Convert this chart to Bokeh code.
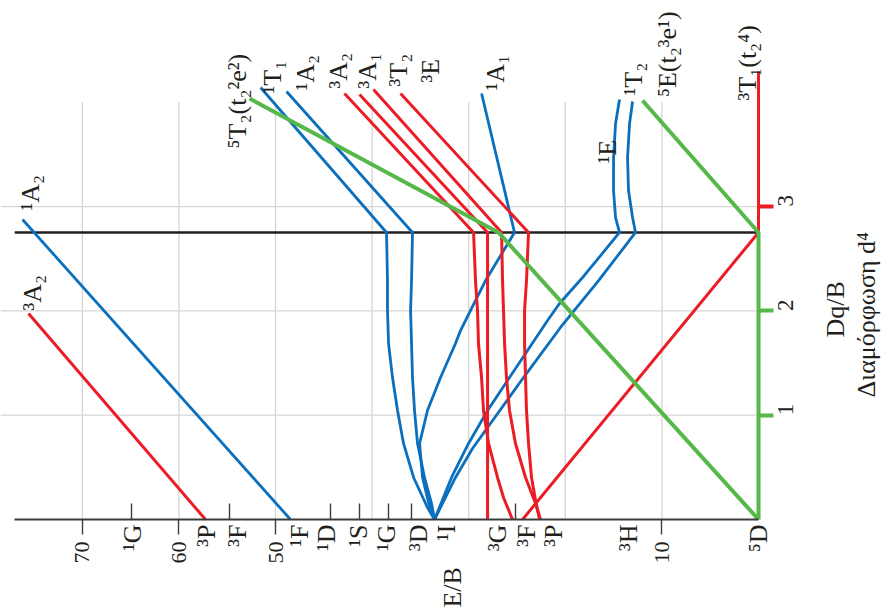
from math import pi
from bokeh.plotting import figure
from bokeh.models import Range1d, LinearAxis, FixedTicker
from bokeh.core.properties import value
from bokeh.embed import file_html
from bokeh.resources import INLINE

FONT = "Liberation Serif"
BLUE = "#0a6fbd"
RED = "#ec1c24"
GREEN = "#55b848"
BLACK = "#231f20"
GRID = "#d5d5d5"
AXIS = "#3c3c3c"
TXT = "#231f20"

# ---------------- data (E/B along x, Dq/B along y) ----------------
dq_cross = 2.752          # spin crossover (black line)
eb_axis_max = 77.0        # end of E/B axis
grid_top = 4.0

eb_ticks = [10, 50, 60, 70]
dq_ticks_low = [1, 2]
dq_ticks_high = [3]
grid_E = [10, 20, 30, 40, 50, 60, 70]
grid_Dq = [1, 2, 3]

# free-ion terms: tick marks and labels on the E/B axis
term_tick_E = [64.91, 54.76, 44.31, 41.30, 38.30, 35.92, 25.16]
term_label_E = [64.80, 57.14, 53.93, 47.52, 44.72, 41.41, 38.51, 35.20, 32.30, 27.02, 24.02, 21.22, 13.46, 0.0]
term_names = ["¹G", "³P", "³F", "¹F", "¹D", "¹S", "¹G", "³D", "¹I", "³G", "³F", "³P", "³H", "⁵D"]

# singlets (blue)
s1A2_left_E = [48.45, 76.19]
s1A2_left_Dq = [0.0, 2.876]
s1T1_E = [33.54, 34.27, 35.71, 36.75, 37.37, 37.89, 38.30, 38.41, 38.41, 38.51, 51.55]
s1T1_Dq = [0.0, 0.115, 0.403, 0.729, 1.045, 1.361, 1.687, 2.004, 2.291, 2.752, 4.142]
s1A2_E = [33.54, 33.85, 34.58, 35.30, 35.61, 35.82, 35.92, 36.02, 35.92, 35.82, 48.86]
s1A2_Dq = [0.0, 0.153, 0.403, 0.729, 1.045, 1.361, 1.687, 2.004, 2.291, 2.752, 4.104]
s1A1_E = [33.54, 34.16, 34.78, 35.09, 34.27, 32.92, 31.37, 30.85, 29.81, 28.26, 25.26, 28.67]
s1A1_Dq = [0.0, 0.163, 0.403, 0.729, 1.045, 1.361, 1.687, 1.812, 2.004, 2.291, 2.752, 4.084]
s1E_E = [33.54, 31.78, 30.02, 28.05, 24.95, 21.84, 20.60, 18.12, 14.39, 14.80, 15.01, 15.01, 14.80, 14.39]
s1E_Dq = [0.0, 0.403, 0.729, 1.045, 1.477, 1.908, 2.071, 2.330, 2.752, 2.895, 3.154, 3.471, 3.797, 4.027]
s1T2_E = [33.54, 31.37, 29.61, 28.05, 24.33, 20.50, 16.56, 12.73, 13.04, 13.46, 13.56, 13.35, 13.04]
s1T2_Dq = [0.0, 0.403, 0.681, 0.882, 1.361, 1.841, 2.291, 2.752, 2.895, 3.154, 3.471, 3.797, 4.008]

# triplets (red)
t3A2_left_E = [57.25, 75.57]
t3A2_left_Dq = [0.0, 1.975]
t3T1_E = [24.43, 0.0, 0.0]
t3T1_Dq = [0.0, 2.752, 4.295]
t3A2_E = [25.47, 26.40, 27.02, 27.95, 28.47, 28.67, 28.99, 29.09, 29.30, 29.50, 42.86]
t3A2_Dq = [0.0, 0.211, 0.403, 0.729, 1.045, 1.361, 1.687, 2.004, 2.291, 2.752, 4.084]
t3A1_E = [28.05, 28.05, 41.30]
t3A1_Dq = [0.0, 2.752, 4.075]
t3T2_E = [22.57, 23.08, 24.12, 25.16, 25.78, 26.09, 26.29, 26.40, 26.50, 26.60, 39.86]
t3T2_Dq = [0.0, 0.153, 0.403, 0.729, 1.045, 1.361, 1.687, 2.004, 2.291, 2.752, 4.123]
t3E_E = [22.67, 23.08, 23.50, 23.81, 24.02, 24.12, 24.22, 24.22, 24.02, 23.81, 37.06]
t3E_Dq = [0.0, 0.182, 0.403, 0.729, 1.045, 1.361, 1.687, 2.004, 2.291, 2.752, 4.084]

# quintets (green)
q5E_E = [0.0, 0.0, 12.01]
q5E_Dq = [0.0, 2.752, 4.017]
q5T2_E = [0.0, 26.92, 52.69]
q5T2_Dq = [0.0, 2.752, 4.036]

# curve labels (anchor = start of rotated text on its baseline)
lab_text = ["⁵T₂(t₂²e²)", "¹T₁", "¹A₂", "³A₂", "³A₁", "³T₂", "³E", "¹A₁", "¹T₂",
            "⁵E(t₂³e¹)", "³T₁(t₂⁴)", "¹E", "¹A₂", "³A₂"]
lab_E = [53.93, 50.31, 46.89, 43.48, 40.48, 37.27, 33.95, 27.23, 12.94, 9.42, 1.14, 15.63, 75.36, 75.16]
lab_Dq = [3.557, 4.084, 4.113, 4.132, 4.132, 4.152, 4.190, 4.113, 4.065, 4.050, 4.017, 3.413, 2.963, 2.004]

# ---------------- figure ----------------
E_left, E_right = 78.47, -13.04
Dq_bottom, Dq_top = -0.930, 4.976
p = figure(width=884, height=616, x_range=Range1d(E_left, E_right), y_range=Range1d(Dq_bottom, Dq_top),
           output_backend="svg", toolbar_location=None, min_border=0,
           x_axis_location=None, y_axis_location=None, outline_line_color=None)
p.grid.visible = False
p.background_fill_color = "white"

# grid
p.segment(x0=grid_E, y0=[0] * len(grid_E), x1=grid_E, y1=[grid_top] * len(grid_E),
          line_color=GRID, line_width=1.3)
p.segment(x0=[0] * len(grid_Dq), y0=grid_Dq, x1=[E_left] * len(grid_Dq), y1=grid_Dq,
          line_color=GRID, line_width=1.3)

# crossover line
p.line([0, eb_axis_max], [dq_cross, dq_cross], line_color=BLACK, line_width=2.6)

blue = [(s1A2_left_E, s1A2_left_Dq), (s1T1_E, s1T1_Dq), (s1A2_E, s1A2_Dq), (s1A1_E, s1A1_Dq),
        (s1E_E, s1E_Dq), (s1T2_E, s1T2_Dq)]
red = [(t3A2_left_E, t3A2_left_Dq), (t3T1_E, t3T1_Dq), (t3A2_E, t3A2_Dq), (t3A1_E, t3A1_Dq),
       (t3T2_E, t3T2_Dq), (t3E_E, t3E_Dq)]
green = [(q5E_E, q5E_Dq), (q5T2_E, q5T2_Dq)]

for xs, ys in blue:
    p.line(xs, ys, line_color=BLUE, line_width=2.8)
for xs, ys in red:
    p.line(xs, ys, line_color=RED, line_width=3.0)
for xs, ys in green:
    p.line(xs, ys, line_color=GREEN, line_width=4.0)

# E/B axis (bottom, at Dq/B = 0)
ax_b = LinearAxis(fixed_location=0, ticker=FixedTicker(ticks=eb_ticks), bounds=(0, eb_axis_max),
                  major_tick_in=0, major_tick_out=15, minor_tick_line_color=None,
                  axis_line_color=AXIS, axis_line_width=1.8,
                  major_tick_line_color=AXIS, major_tick_line_width=1.4,
                  major_label_orientation=pi / 2, major_label_standoff=7,
                  major_label_text_font=FONT, major_label_text_font_size="22px",
                  major_label_text_color=TXT)
p.add_layout(ax_b, "below")

ax_t = LinearAxis(fixed_location=0, ticker=FixedTicker(ticks=term_tick_E),
                  major_tick_in=16, major_tick_out=0, minor_tick_line_color=None,
                  axis_line_color=None, major_tick_line_color=AXIS, major_tick_line_width=1.4,
                  major_label_text_color=None)
p.add_layout(ax_t, "below")

ax_l = LinearAxis(fixed_location=0, ticker=FixedTicker(ticks=term_label_E),
                  major_tick_in=0, major_tick_out=0, minor_tick_line_color=None,
                  axis_line_color=None, major_tick_line_color=None,
                  major_label_overrides=dict(zip(term_label_E, term_names)),
                  major_label_orientation=pi / 2, major_label_standoff=5,
                  major_label_text_font=FONT, major_label_text_font_size="26px",
                  major_label_text_color=TXT)
p.add_layout(ax_l, "below")

# Dq/B axis (right, at E/B = 0)
for ticks, col in ((dq_ticks_low, GREEN), (dq_ticks_high, RED)):
    ax_r = LinearAxis(fixed_location=0, ticker=FixedTicker(ticks=ticks),
                      major_tick_in=0, major_tick_out=15, minor_tick_line_color=None,
                      axis_line_color=None, major_tick_line_color=col, major_tick_line_width=4,
                      major_label_orientation=pi / 2, major_label_standoff=12,
                      major_label_text_font=FONT, major_label_text_font_size="23px",
                      major_label_text_color=TXT)
    p.add_layout(ax_r, "right")

# curve labels
p.text(x=lab_E, y=lab_Dq, text=lab_text, angle=pi / 2, text_align="left",
       text_baseline="alphabetic", text_font=value(FONT), text_font_size="26px", text_color=TXT)

# axis titles
p.text(x=[31.68], y=[-0.844], text=["E/B"], angle=pi / 2, text_align="left",
       text_baseline="alphabetic", text_font=value(FONT), text_font_size="26px", text_color=TXT)
p.text(x=[-7.97], y=[1.745], text=["Dq/B"], angle=pi / 2, text_align="left",
       text_baseline="alphabetic", text_font=value(FONT), text_font_size="26px", text_color=TXT)
p.text(x=[-11.2], y=[1.170], text=["Διαμόρφωση d⁴"], angle=pi / 2, text_align="left",
       text_baseline="alphabetic", text_font=value(FONT), text_font_size="26px", text_color=TXT)

open("out.html", "w").write(file_html(p, INLINE))
